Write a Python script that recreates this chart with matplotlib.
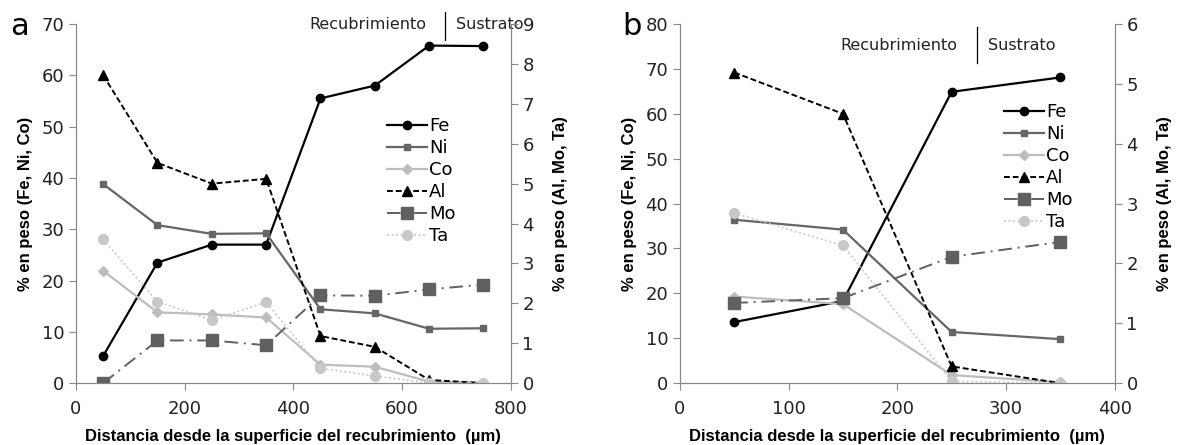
import matplotlib.pyplot as plt

# panel a
dist_a = [50, 150, 250, 350, 450, 550, 650, 750]
fe_a = [5.3, 23.5, 27.0, 27.0, 55.5, 58.0, 65.8, 65.7]
ni_a = [38.8, 30.8, 29.1, 29.2, 14.4, 13.6, 10.6, 10.7]
co_a = [21.9, 13.8, 13.4, 12.8, 3.6, 3.2, 0.3, 0.1]
al_a = [7.72, 5.52, 5.0, 5.12, 1.18, 0.91, 0.08, 0.0]
mo_a = [0.0, 1.07, 1.07, 0.95, 2.2, 2.19, 2.35, 2.47]
ta_a = [3.6, 2.04, 1.58, 2.03, 0.37, 0.18, 0.0, 0.0]

# panel b
dist_b = [50, 150, 250, 350]
fe_b = [13.6, 18.3, 64.9, 68.1]
ni_b = [36.4, 34.2, 11.4, 9.8]
co_b = [19.3, 17.6, 1.8, 0.2]
al_b = [5.19, 4.5, 0.28, 0.0]
mo_b = [1.34, 1.42, 2.11, 2.36]
ta_b = [2.84, 2.3, 0.03, 0.0]

GRIS = "#888888"
XLAB = "Distancia desde la superficie del recubrimiento  (µm)"
FONT_EJE = dict(family="Liberation Sans", fontweight="bold", fontsize=12)


def panel(fig, rect, x, fe, ni, co, al, mo, ta, xmax, xstep, ymax1, ymax2,
          letra, letra_dx, anot, leg_pos):
    ax = fig.add_axes(rect)
    ax2 = ax.twinx()

    l1, = ax.plot(x, fe, color="black", marker="o", ms=6, lw=1.6, label="Fe")
    l2, = ax.plot(x, ni, color="#666666", marker="s", ms=5, lw=1.6, label="Ni")
    l3, = ax.plot(x, co, color="#bdbdbd", marker="D", ms=5, lw=1.6, label="Co")
    l4, = ax2.plot(x, al, color="black", marker="^", ms=7, lw=1.4,
                   ls=(0, (3, 1.5)), label="Al")
    l5, = ax2.plot(x, mo, color="#606060", marker="s", ms=8, lw=1.4,
                   ls=(0, (7, 3, 1, 3)), label="Mo")
    l6, = ax2.plot(x, ta, color="#c8c8c8", marker="o", ms=7, lw=1.3,
                   ls=(0, (1, 1.5)), label="Ta")

    ax.set_xlim(0, xmax)
    ax.set_xticks(range(0, xmax + 1, xstep))
    ax.set_ylim(0, ymax1)
    ax.set_yticks(range(0, ymax1 + 1, 10))
    ax2.set_ylim(0, ymax2)
    ax2.set_yticks(range(0, ymax2 + 1))

    for a in (ax, ax2):
        for s in a.spines.values():
            s.set_color(GRIS)
        a.spines["top"].set_visible(False)
        a.tick_params(colors=GRIS, labelcolor="#222222", labelsize=13,
                      length=5, direction="out")
    ax.tick_params(axis="x", pad=7)

    ax.set_xlabel(XLAB, labelpad=8, **FONT_EJE)
    ax.set_ylabel("% en peso (Fe, Ni, Co)", labelpad=6, **FONT_EJE)
    ax2.set_ylabel("% en peso (Al, Mo, Ta)", rotation=90, labelpad=14, **FONT_EJE)

    fig.text(rect[0] - letra_dx, rect[1] + rect[3] - 0.005, letra, fontsize=22,
             ha="left", va="center")

    ty, lx, y0, y1 = anot
    ax.text(lx - 0.045, ty, "Recubrimiento", transform=ax.transAxes,
            ha="right", va="center", fontsize=11.5, color="#222222")
    ax.text(lx + 0.025, ty, "Sustrato", transform=ax.transAxes,
            ha="left", va="center", fontsize=11.5, color="#222222")
    ax.plot([lx, lx], [y0, y1], color="black", lw=0.9,
            transform=ax.transAxes, clip_on=False)

    ax2.legend(handles=[l1, l2, l3, l4, l5, l6], loc="upper left",
               bbox_to_anchor=leg_pos, frameon=False, fontsize=13,
               handlelength=2.2, handletextpad=0.1, labelspacing=0.22,
               borderaxespad=0)


fig = plt.figure(figsize=(11.78, 4.45), dpi=100)

panel(fig, [0.0645, 0.139, 0.369, 0.807], dist_a, fe_a, ni_a, co_a, al_a,
      mo_a, ta_a, 800, 200, 70, 9, "a", 0.056,
      (1.0, 0.85, 0.955, 1.033), (0.70, 0.76))
panel(fig, [0.5772, 0.139, 0.369, 0.807], dist_b, fe_b, ni_b, co_b, al_b,
      mo_b, ta_b, 400, 100, 80, 6, "b", 0.049,
      (0.939, 0.683, 0.891, 0.992), (0.73, 0.80))

fig.savefig("out.png", dpi=100)
